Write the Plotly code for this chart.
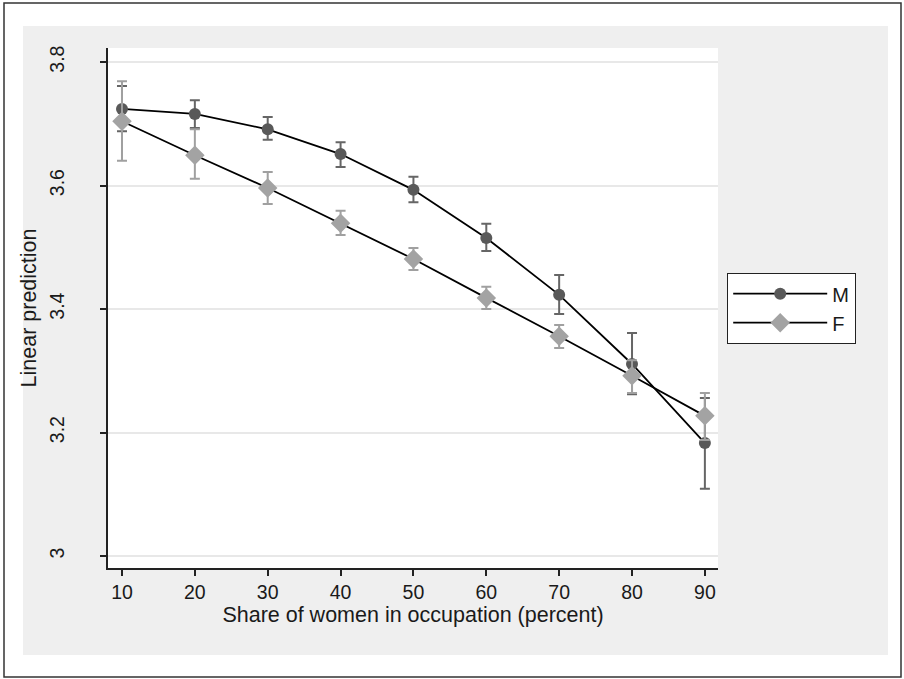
import plotly.graph_objects as go

share = [10, 20, 30, 40, 50, 60, 70, 80, 90]

m_pred = [3.724, 3.716, 3.691, 3.651, 3.593, 3.515, 3.423, 3.311, 3.183]
m_hi = [3.761, 3.738, 3.711, 3.670, 3.614, 3.538, 3.455, 3.361, 3.256]
m_lo = [3.688, 3.693, 3.674, 3.630, 3.573, 3.494, 3.392, 3.262, 3.109]

f_pred = [3.704, 3.649, 3.596, 3.539, 3.481, 3.418, 3.356, 3.292, 3.227]
f_hi = [3.769, 3.691, 3.622, 3.559, 3.499, 3.436, 3.374, 3.317, 3.264]
f_lo = [3.640, 3.611, 3.570, 3.520, 3.463, 3.400, 3.337, 3.264, 3.188]

y_ticks = [3.0, 3.2, 3.4, 3.6, 3.8]
y_tick_text = ["3", "3.2", "3.4", "3.6", "3.8"]
x_ticks = share

FONT = "Liberation Sans, Arial, Helvetica, sans-serif"

fig = go.Figure()

def add_series(name, pred, hi, lo, mcolor, ecolor, symbol, msize):
    fig.add_trace(go.Scatter(
        x=share, y=pred, mode="lines+markers", name=name,
        line=dict(color="black", width=1.8),
        marker=dict(color=mcolor, symbol=symbol, size=msize, line=dict(width=0)),
        error_y=dict(type="data", symmetric=False,
                     array=[h - p for h, p in zip(hi, pred)],
                     arrayminus=[p - l for p, l in zip(pred, lo)],
                     color=ecolor, thickness=2, width=5),
    ))

add_series("M", m_pred, m_hi, m_lo, "#595959", "#666666", "circle", 12)
add_series("F", f_pred, f_hi, f_lo, "#a3a3a3", "#a0a0a0", "diamond", 15)

# plot area in pixels: x 108..718, y 48..568
L, R, T, B = 108, 718, 48, 568
W, H = 904, 679
pw, ph = R - L, B - T

def px_x(x):
    return (x - L) / pw

def px_y(y):
    return (B - y) / ph

shapes = [
    # outer frame
    dict(type="rect", xref="paper", yref="paper",
         x0=px_x(4), x1=px_x(901), y0=px_y(677), y1=px_y(3),
         line=dict(color="#333333", width=1.5), fillcolor="white", layer="below"),
    # gray graph region
    dict(type="rect", xref="paper", yref="paper",
         x0=px_x(23), x1=px_x(888), y0=px_y(655), y1=px_y(26),
         line=dict(width=0), fillcolor="#efefef", layer="below"),
    # white plot region
    dict(type="rect", xref="paper", yref="paper",
         x0=0, x1=1, y0=0, y1=1,
         line=dict(width=0), fillcolor="white", layer="below"),
]

fig.update_layout(
    width=W, height=H,
    margin=dict(l=L, r=W - R, t=T, b=H - B, autoexpand=False),
    paper_bgcolor="white",
    plot_bgcolor="white",
    font=dict(family=FONT, color="#1a1a1a", size=20),
    shapes=shapes,
    showlegend=True,
    legend=dict(
        x=px_x(727), y=px_y(273), xanchor="left", yanchor="top",
        bgcolor="white", bordercolor="#222222", borderwidth=1.2,
        font=dict(size=20, family=FONT),
        itemwidth=94, tracegroupgap=0,
    ),
    xaxis=dict(
        range=[8.08, 91.8], tickmode="array", tickvals=x_ticks,
        showgrid=False, zeroline=False,
        showline=True, linecolor="#222222", linewidth=1.5,
        ticks="outside", ticklen=6, tickwidth=1.5, tickcolor="#222222",
        tickfont=dict(size=19.5),
        title=dict(text="Share of women in occupation (percent)", font=dict(size=21.5), standoff=4),
    ),
    yaxis=dict(
        range=[2.9806, 3.8227], tickmode="array", tickvals=y_ticks, ticktext=y_tick_text,
        tickangle=-90, ticklabelstandoff=28,
        showgrid=True, gridcolor="#e8e8e8", gridwidth=1.5,
        zeroline=False,
        showline=True, linecolor="#222222", linewidth=1.5,
        ticks="outside", ticklen=6, tickwidth=1.5, tickcolor="#222222",
        tickfont=dict(size=19.5),
        title=dict(text="Linear prediction", font=dict(size=21.5), standoff=4),
    ),
)

fig.write_html("out.html", config={"displayModeBar": False},
               post_script="document.body.style.margin='0';document.body.style.overflow='hidden';")
